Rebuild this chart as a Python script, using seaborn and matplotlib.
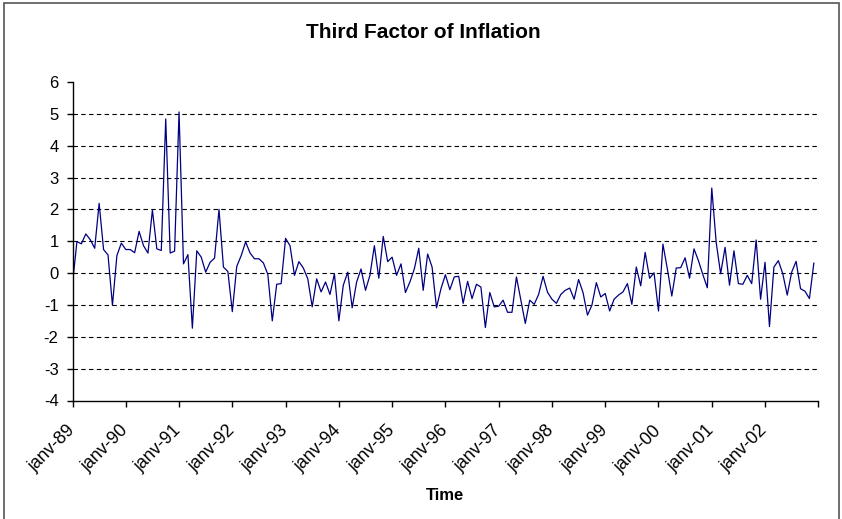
import numpy as np
import pandas as pd
import seaborn as sns
import matplotlib
matplotlib.use('Agg')
import matplotlib.pyplot as plt
import matplotlib.transforms as mtransforms
from matplotlib.patches import Rectangle

# monthly values of the third factor, one list per year
y1989 = [-0.33, 0.99, 0.92, 1.23, 1.05, 0.78, 2.19, 0.74, 0.57, -1.01, 0.55, 0.94]
y1990 = [0.74, 0.74, 0.64, 1.31, 0.86, 0.63, 1.98, 0.76, 0.71, 4.84, 0.63, 0.69]
y1991 = [5.06, 0.29, 0.58, -1.73, 0.70, 0.50, 0.03, 0.34, 0.47, 2.00, 0.19, 0.05]
y1992 = [-1.21, 0.21, 0.55, 0.98, 0.63, 0.45, 0.45, 0.32, -0.04, -1.50, -0.35, -0.33]
y1993 = [1.09, 0.86, -0.07, 0.36, 0.16, -0.18, -1.06, -0.18, -0.59, -0.28, -0.67, -0.02]
y1994 = [-1.50, -0.38, 0.03, -1.09, -0.28, 0.13, -0.54, -0.07, 0.86, -0.16, 1.15, 0.36]
y1995 = [0.50, -0.07, 0.29, -0.61, -0.28, 0.13, 0.78, -0.54, 0.60, 0.19, -1.09, -0.49]
y1996 = [-0.05, -0.52, -0.12, -0.10, -0.95, -0.26, -0.80, -0.35, -0.44, -1.71, -0.61, -1.06]
y1997 = [-1.04, -0.85, -1.23, -1.23, -0.12, -0.85, -1.58, -0.85, -0.98, -0.67, -0.10, -0.60]
y1998 = [-0.82, -0.95, -0.67, -0.54, -0.47, -0.82, -0.20, -0.61, -1.32, -1.01, -0.30, -0.75]
y1999 = [-0.64, -1.19, -0.82, -0.69, -0.59, -0.33, -0.98, 0.19, -0.40, 0.65, -0.16, 0.01]
y2000 = [-1.19, 0.91, 0.13, -0.72, 0.16, 0.17, 0.48, -0.16, 0.76, 0.39, -0.05, -0.46]
y2001 = [2.67, 0.96, -0.02, 0.81, -0.38, 0.70, -0.33, -0.35, -0.07, -0.33, 1.04, -0.82]
y2002 = [0.34, -1.68, 0.19, 0.39, -0.02, -0.69, 0.03, 0.37, -0.49, -0.57, -0.80, 0.32]

years = ['89', '90', '91', '92', '93', '94', '95', '96', '97', '98', '99', '00', '01', '02']
year_labels = ['janv-' + y for y in years]

values = np.concatenate([y1989, y1990, y1991, y1992, y1993, y1994, y1995,
                         y1996, y1997, y1998, y1999, y2000, y2001, y2002])
df = pd.DataFrame({'month': np.arange(len(values)), 'factor': values})

sns.set_style('white')
plt.rcParams['font.family'] = ['Liberation Sans', 'DejaVu Sans']
plt.rcParams['text.color'] = 'black'
plt.rcParams['xtick.color'] = 'black'
plt.rcParams['ytick.color'] = 'black'
plt.rcParams['axes.labelcolor'] = 'black'

fig = plt.figure(figsize=(8.42, 5.19), dpi=100)
ax = fig.add_axes([72.5 / 842, 1 - 400.5 / 519, (818.3 - 72.5) / 842, (400.5 - 82) / 519])

sns.lineplot(data=df, x='month', y='factor', ax=ax, color='#000080', linewidth=0.9)

ax.set_xlim(0, 168)
ax.set_ylim(-4, 6)
ax.set_yticks(range(-4, 7))
ax.set_yticklabels([str(v) for v in range(-4, 7)], fontsize=12)
ax.set_xticks(range(0, 169, 12))
ax.set_xticklabels(year_labels + [''], fontsize=12.8, rotation=45,
                   ha='right', va='center', rotation_mode='anchor')

# nudge the rotated year labels a little to the left, like the original
shift = mtransforms.ScaledTranslation(-3 / 100, 0, fig.dpi_scale_trans)
for lbl in ax.get_xticklabels():
    lbl.set_transform(lbl.get_transform() + shift)

for v in range(-3, 6):
    ax.axhline(v, color='black', linewidth=0.8, linestyle=(0, (4, 3)), zorder=0)

sns.despine(ax=ax, top=True, right=True)
for s in ['left', 'bottom']:
    ax.spines[s].set_color('black')
    ax.spines[s].set_linewidth(1.0)
ax.tick_params(axis='both', direction='out', length=4, width=1, color='black',
               left=True, bottom=True)
ax.tick_params(axis='y', pad=6)
ax.tick_params(axis='x', pad=16)

ax.set_ylabel('')
ax.set_xlabel('Time', fontsize=12, fontweight='bold', labelpad=9)
fig.text(423 / 842, 1 - 37.5 / 519, 'Third Factor of Inflation', fontsize=15,
         fontweight='bold', ha='center', va='baseline')

fig.patches.append(Rectangle((4 / 842, -0.1), (839 - 4) / 842, 1.1 - 3 / 519,
                             transform=fig.transFigure, fill=False,
                             edgecolor='#555555', linewidth=1.2))

fig.savefig('out.png', dpi=100)
